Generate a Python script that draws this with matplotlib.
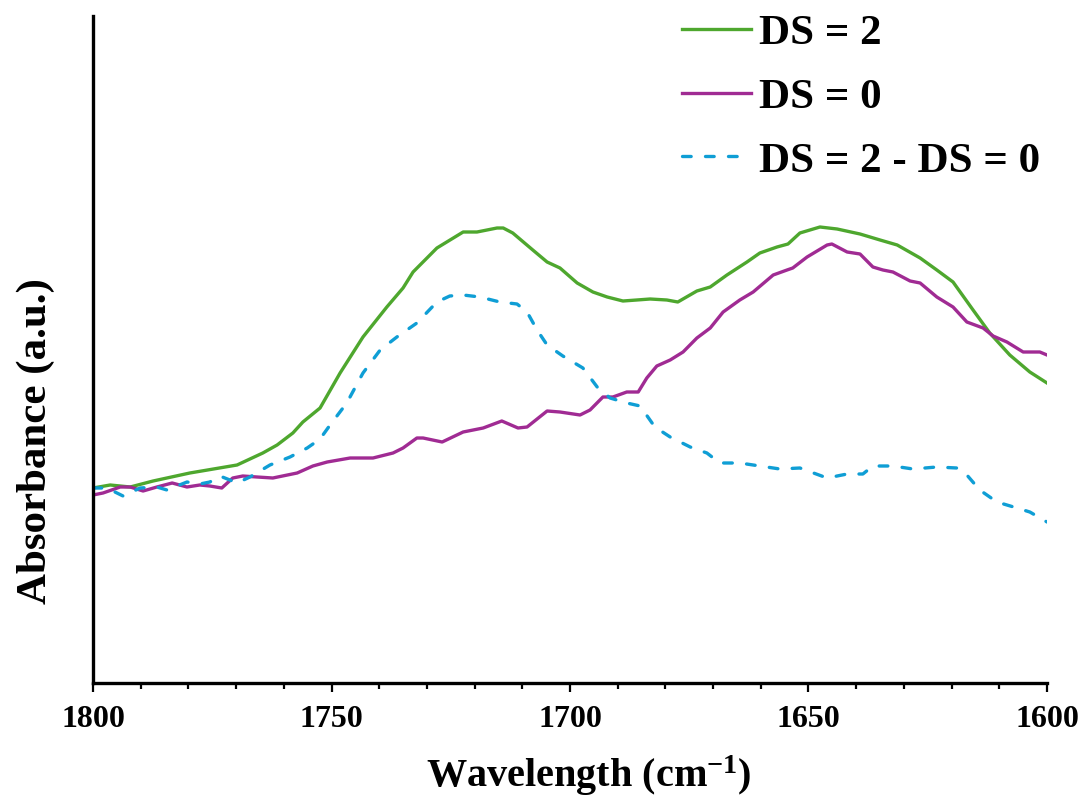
import matplotlib
matplotlib.use("Agg")
import matplotlib.pyplot as plt
from matplotlib.ticker import MultipleLocator

# Wavenumber (cm-1) and absorbance (a.u.) for each spectrum
wn_ds2 = [1800.0, 1796.4, 1792.2, 1787.4, 1779.7, 1769.8, 1764.4, 1761.4, 1758.1,
          1756.0, 1752.4, 1748.2, 1743.4, 1738.4, 1735.0, 1732.9, 1727.9, 1722.4,
          1719.5, 1715.3, 1714.0, 1712.0, 1707.8, 1704.8, 1702.1, 1698.5, 1695.2,
          1692.2, 1688.9, 1686.0, 1683.2, 1679.7, 1677.4, 1673.4, 1670.6, 1667.1,
          1662.9, 1660.2, 1656.6, 1654.3, 1651.8, 1647.6, 1644.0, 1639.2, 1635.0,
          1631.4, 1626.6, 1623.1, 1619.7, 1615.5, 1612.0, 1607.8, 1603.6, 1600.0]
abs_ds2 = [195, 198, 196, 202, 210, 218, 230, 238, 250,
           261, 275, 310, 346, 376, 395, 411, 435, 451,
           451, 455, 455, 450, 433, 421, 415, 400, 391,
           386, 382, 383, 384, 383, 381, 392, 396, 408,
           421, 430, 436, 439, 450, 456, 454, 449, 443,
           438, 425, 413, 401, 373, 350, 328, 311, 300]

wn_ds0 = [1800.0, 1797.9, 1794.3, 1792.2, 1789.5, 1786.6, 1783.4, 1780.3, 1777.6,
          1775.5, 1773.0, 1770.7, 1768.6, 1765.6, 1762.3, 1757.2, 1753.9, 1750.9,
          1746.1, 1741.3, 1737.1, 1735.0, 1732.1, 1730.8, 1726.8, 1722.4, 1718.2,
          1714.3, 1710.9, 1709.0, 1704.8, 1702.1, 1697.9, 1695.8, 1693.1, 1691.0,
          1688.1, 1685.7, 1683.9, 1681.8, 1679.0, 1676.3, 1673.4, 1670.6, 1667.9,
          1664.4, 1661.6, 1657.4, 1654.5, 1653.3, 1650.3, 1646.1, 1645.1, 1641.9,
          1639.2, 1636.5, 1634.4, 1632.3, 1628.7, 1626.6, 1623.1, 1619.7, 1616.8,
          1613.4, 1611.3, 1608.4, 1605.0, 1601.5, 1600.0]
abs_ds0 = [188, 190, 196, 196, 192, 196, 200, 196, 198,
           197, 195, 205, 207, 206, 205, 210, 217, 221,
           225, 225, 230, 235, 245, 245, 241, 251, 255,
           262, 255, 256, 272, 271, 268, 273, 286, 286,
           291, 291, 305, 317, 323, 331, 345, 355, 371,
           383, 391, 408, 413, 415, 426, 438, 439, 431,
           429, 416, 413, 411, 402, 400, 386, 376, 361,
           355, 347, 341, 331, 331, 328]

wn_diff = [1800.0, 1797.1, 1793.7, 1790.1, 1786.6, 1784.5, 1780.3, 1777.6, 1775.5,
           1773.4, 1771.3, 1769.8, 1767.1, 1762.9, 1758.7, 1755.1, 1752.4, 1750.3,
           1746.8, 1743.4, 1739.8, 1736.3, 1732.1, 1727.9, 1725.2, 1722.4, 1718.9,
           1714.7, 1711.1, 1709.0, 1706.9, 1704.8, 1701.5, 1697.3, 1694.3, 1691.6,
           1688.1, 1685.3, 1682.2, 1679.0, 1674.8, 1671.3, 1668.6, 1664.4, 1660.2,
           1656.0, 1651.8, 1646.1, 1641.9, 1638.6, 1636.5, 1632.3, 1628.1, 1623.1,
           1618.9, 1616.8, 1614.1, 1610.5, 1606.3, 1603.6, 1600.0]
abs_diff = [195, 195, 187, 195, 196, 193, 201, 199, 201,
            207, 203, 200, 206, 218, 226, 235, 244, 258,
            280, 310, 333, 346, 360, 381, 387, 388, 386,
            381, 379, 371, 353, 338, 327, 315, 296, 285,
            280, 277, 256, 246, 236, 230, 220, 220, 217,
            214, 215, 205, 209, 209, 217, 217, 214, 216,
            215, 208, 193, 181, 175, 171, 161]

labels = ["DS = 2", "DS = 0", "DS = 2 - DS = 0"]
colors = ["#4EA72E", "#A02B93", "#0F9ED5"]

plt.rcParams["font.family"] = ["Liberation Serif", "DejaVu Serif"]
plt.rcParams["font.weight"] = "bold"
plt.rcParams["mathtext.fontset"] = "custom"
plt.rcParams["mathtext.rm"] = "Liberation Serif:bold"
plt.rcParams["mathtext.bf"] = "Liberation Serif:bold"
plt.rcParams["mathtext.default"] = "bf"

fig = plt.figure(figsize=(10.81, 7.99), dpi=100)
ax = fig.add_axes([93 / 1081, 1 - 683 / 799, 954 / 1081, 667 / 799])

lw = 2.4
ax.plot(wn_ds2, abs_ds2, color=colors[0], lw=lw, label=labels[0],
        solid_joinstyle="round")
ax.plot(wn_ds0, abs_ds0, color=colors[1], lw=lw, label=labels[1],
        solid_joinstyle="round")
ax.plot(wn_diff, abs_diff, color=colors[2], lw=lw, ls=(0, (2.6, 4.3)),
        dash_capstyle="round", label=labels[2])

ax.set_xlim(1800, 1600)
ax.set_ylim(0, 667)

for s in ("top", "right"):
    ax.spines[s].set_visible(False)
for s in ("left", "bottom"):
    ax.spines[s].set_linewidth(2.4)

ax.set_yticks([])
ax.xaxis.set_major_locator(MultipleLocator(50))
ax.xaxis.set_minor_locator(MultipleLocator(10))
ax.tick_params(axis="x", which="major", direction="out", length=6.5, width=1.6,
               pad=9, labelsize=23)
ax.tick_params(axis="x", which="minor", direction="out", length=4.3, width=1.6)
for t in ax.get_xticklabels():
    t.set_fontweight("bold")

ax.set_xlabel("Wavelength (cm$^{-1}$)", fontsize=29, fontweight="bold")
ax.xaxis.set_label_coords((589 - 93) / 954, -(754 - 683) / 667)
ax.set_ylabel("Absorbance (a.u.)", fontsize=31, fontweight="bold")
ax.yaxis.set_label_coords(-(93 - 55) / 954, (683 - 441) / 667)

leg = ax.legend(loc="upper left", bbox_to_anchor=(682 / 1081, 1 - 14 / 799),
                bbox_transform=fig.transFigure, frameon=False,
                prop={"size": 31, "weight": "bold"}, handlelength=1.6,
                handletextpad=0.19, labelspacing=0.57, borderpad=0, borderaxespad=0)

fig.savefig("out.png", dpi=100)
